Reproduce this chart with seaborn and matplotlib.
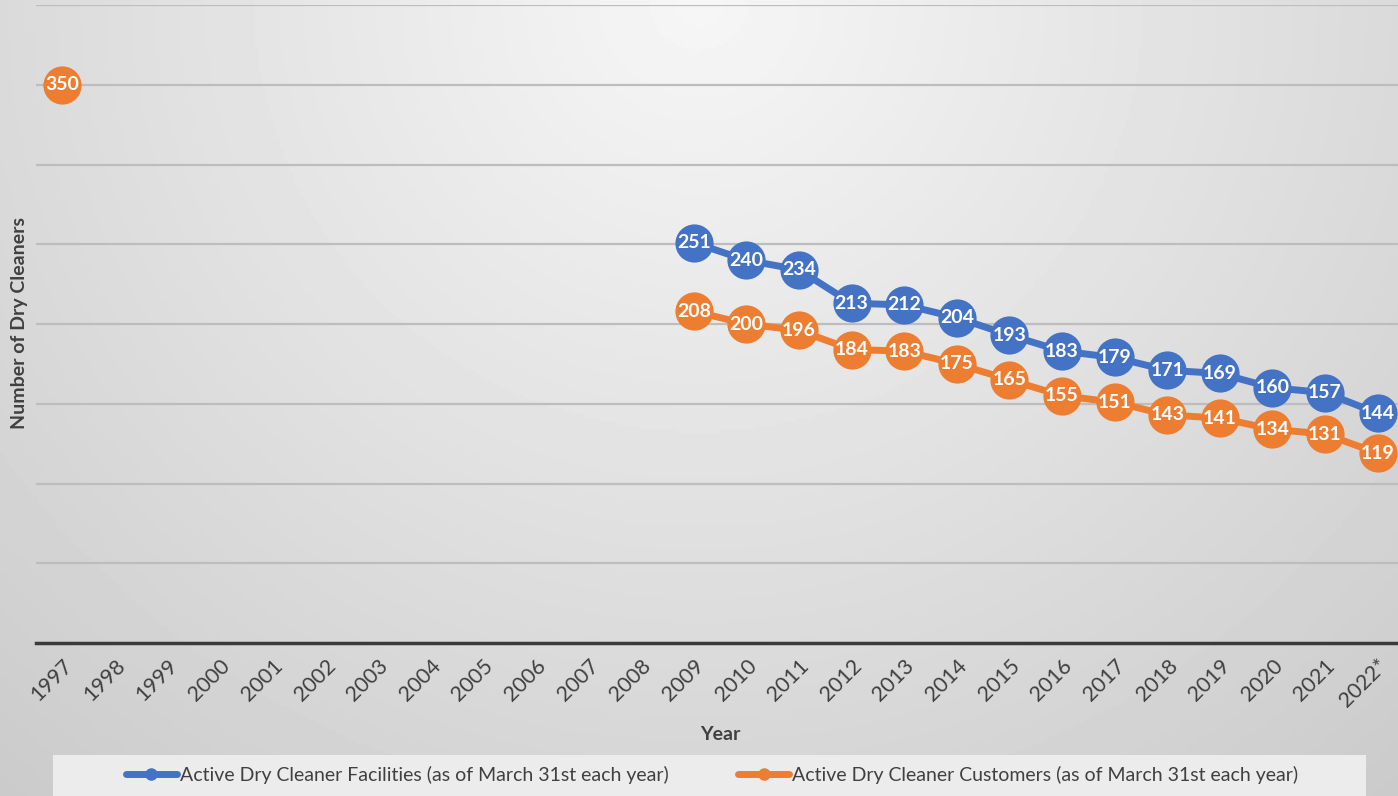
import numpy as np
import pandas as pd
import matplotlib
matplotlib.use("Agg")
import matplotlib.pyplot as plt
import seaborn as sns
from matplotlib.lines import Line2D
from matplotlib.patches import Rectangle

# Data
years = [str(y) for y in range(1997, 2022)] + ["2022*"]
facilities = [np.nan] * 12 + [251, 240, 234, 213, 212, 204, 193, 183, 179, 171, 169, 160, 157, 144]
customers = [350] + [np.nan] * 11 + [208, 200, 196, 184, 183, 175, 165, 155, 151, 143, 141, 134, 131, 119]

fac_label = "Active Dry Cleaner Facilities (as of March 31st each year)"
cus_label = "Active Dry Cleaner Customers (as of March 31st each year)"
BLUE = "#4472C4"
ORANGE = "#ED7D31"

sns.set_style("white")
plt.rcParams["font.family"] = ["Lato", "DejaVu Sans"]

df = pd.DataFrame({"pos": np.arange(len(years)), "year": years,
                   "Facilities": facilities, "Customers": customers})

fig = plt.figure(figsize=(13.98, 7.96), dpi=100)

# soft radial grey background (lighter near top centre)
bg = fig.add_axes([0, 0, 1, 1], zorder=-10)
gx, gy = np.meshgrid(np.linspace(-1, 1, 400), np.linspace(0, 1, 230))
r = np.sqrt((gx * 0.85) ** 2 + (gy * 1.0) ** 2)
shade = np.clip(0.965 - 0.13 * r, 0, 1)
bg.imshow(shade, cmap="gray", vmin=0, vmax=1, aspect="auto", extent=[0, 1, 0, 1], origin="upper")
bg.set_axis_off()

ax = fig.add_axes([36 / 1398, 153 / 796, 1368 / 1398, 638 / 796])
ax.set_facecolor("none")

for col, color in [("Facilities", BLUE), ("Customers", ORANGE)]:
    sub = df[["pos", col]].copy()
    sub["seg"] = sub[col].isna().cumsum()
    sub = sub.dropna()
    sns.lineplot(data=sub, x="pos", y=col, units="seg", estimator=None, color=color,
                 linewidth=5, marker="o", markersize=27.5, markeredgewidth=0,
                 ax=ax, zorder=3, legend=False)
    for _, row in sub.iterrows():
        ax.text(row["pos"], row[col], f"{int(row[col])}", ha="center", va="center",
                color="white", fontsize=14, fontweight="bold", zorder=4)

ax.set_xlim(-0.5, len(years) - 0.5)
ax.set_ylim(0, 400)
ax.set_yticks(np.arange(0, 401, 50))
ax.set_yticklabels([])
ax.tick_params(axis="y", length=0)
ax.grid(axis="y", color="#bdbdbd", linewidth=1.6)
ax.set_axisbelow(True)
ax.set_xticks(df["pos"])
ax.set_xticklabels(years, rotation=45, ha="right", rotation_mode="anchor",
                   fontsize=15.5, color="#404040")
ax.tick_params(axis="x", length=0, pad=9)
for s in ["top", "right", "left"]:
    ax.spines[s].set_visible(False)
ax.spines["bottom"].set_color("#3a3a3a")
ax.spines["bottom"].set_linewidth(2.5)
ax.set_xlabel("")
ax.set_ylabel("")

fig.text(20 / 1398, 1 - 323 / 796, "Number of Dry Cleaners", rotation=90, ha="center",
         va="center", fontsize=14, fontweight="bold", color="#404040")
fig.text(720 / 1398, 1 - 734 / 796, "Year", ha="center", va="center",
         fontsize=14, fontweight="bold", color="#404040")

# legend box at bottom
fig.patches.append(Rectangle((53 / 1398, 0), 1313 / 1398, 41 / 796, transform=fig.transFigure,
                             facecolor="#ececec", edgecolor="none", zorder=-5))
handles = [Line2D([0], [0], color=BLUE, linewidth=5, marker="o", markersize=8),
           Line2D([0], [0], color=ORANGE, linewidth=5, marker="o", markersize=8)]
fig.legend(handles, [fac_label, cus_label], loc="center", ncol=2,
           bbox_to_anchor=(712 / 1398, 1 - 775 / 796), frameon=False, fontsize=14,
           handlelength=2.6, handletextpad=0.15, columnspacing=3.6, labelcolor="#404040")

fig.savefig("out.png", dpi=100)
